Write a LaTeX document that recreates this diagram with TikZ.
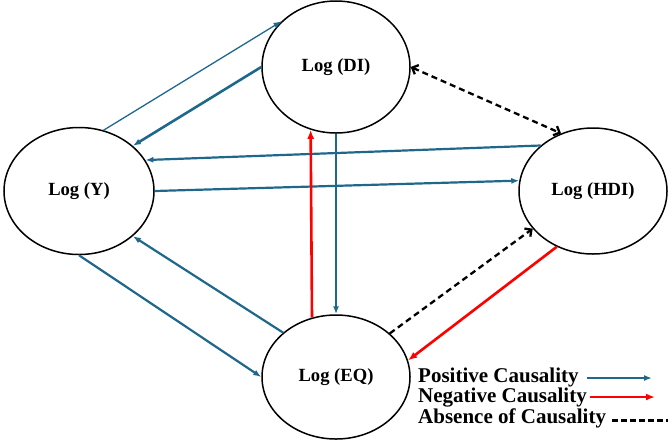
\documentclass[tikz,border=0pt]{standalone}
\usepackage{fontspec}
\setmainfont{Liberation Serif}
\usetikzlibrary{shapes.geometric,arrows.meta}
\definecolor{posblue}{RGB}{31,104,140}
\definecolor{negred}{RGB}{255,0,0}

\begin{document}
\begin{tikzpicture}[x=1pt,y=-1pt,
    var/.style={draw, ellipse, line width=1.5pt, inner sep=0pt, font=\fontsize{18.6}{22}\selectfont\bfseries},
    poscause/.style={draw=posblue, line width=2.2pt, -{Latex[length=8pt,width=6pt]}},
    negcause/.style={draw=negred, line width=2.6pt, -{Latex[length=9pt,width=7pt]}},
    nocause/.style={draw=black, line width=2.3pt, dash pattern=on 6pt off 4pt},
    barb/.style={-{Straight Barb[length=5pt,width=10pt]}},
    key/.style={anchor=base west, inner sep=0pt, font=\fontsize{21}{24}\selectfont\bfseries}]
    \useasboundingbox (0,0) rectangle (668,440);

    % Variables
    \node[var, minimum width=148pt, minimum height=132pt] (DI) at (336,67) {Log (DI)};
    \node[var, minimum width=150pt, minimum height=127pt] (Y) at (79,191) {Log (Y)};
    \node[var, minimum width=148pt, minimum height=126pt] (HDI) at (593,191) {Log (HDI)};
    \node[var, minimum width=148pt, minimum height=124pt] (EQ) at (336,377) {Log (EQ)};

    % Positive causality
    \draw[poscause, line width=1.3pt] (Y.68) -- (DI.140);
    \draw[poscause, line width=2.6pt] (DI.180) -- (Y.40);
    \draw[poscause] (HDI.139) -- (Y.25);
    \draw[poscause] (Y.0) -- (HDI.172);
    \draw[poscause] (DI.270) -- (EQ.90);
    \draw[poscause] (EQ.140) -- (Y.-40);
    \draw[poscause] (Y.270) -- (EQ.180);

    % Negative causality
    \draw[negcause] (EQ.112) -- (DI.248);
    \draw[negcause] (HDI.237) -- (EQ.13);

    % Absence of causality
    \draw[nocause, {Straight Barb[length=5pt,width=10pt]}-{Straight Barb[length=5pt,width=10pt]}] (DI.0) -- (HDI.119);
    \draw[nocause, barb] (EQ.39) -- (HDI.212);

    % Legend
    \node[key] (kpos) at (418,382) {Positive Causality};
    \node[key] (kneg) at (418,402) {Negative Causality};
    \node[key] (kabs) at (418,423) {Absence of Causality};
    \coordinate (pos1) at (587,378);
    \coordinate (pos2) at (652,378);
    \coordinate (neg1) at (590,397);
    \coordinate (neg2) at (655,397);
    \coordinate (abs1) at (612,420);
    \coordinate (abs2) at (668,420);
    \draw[poscause] (pos1) -- (pos2);
    \draw[negcause, line width=2.2pt] (neg1) -- (neg2);
    \draw[nocause, line width=3pt, dash pattern=on 6pt off 3pt] (abs1) -- (abs2);
\end{tikzpicture}
\end{document}
